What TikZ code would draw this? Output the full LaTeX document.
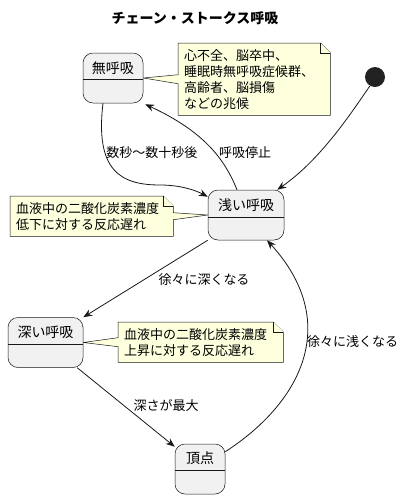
\documentclass[tikz,border=0pt]{standalone}
\usepackage{fontspec}
\setmainfont{Noto Sans CJK JP}
\usetikzlibrary{arrows.meta,backgrounds}
\definecolor{linecol}{HTML}{181818}
\definecolor{statefill}{HTML}{F1F1F1}
\definecolor{notefill}{HTML}{FEFFDD}
\definecolor{dotcol}{HTML}{222222}

\begin{document}
\begin{tikzpicture}[x=1pt, y=-1pt,
  state/.style={draw=linecol, line width=0.5pt, fill=statefill, rounded corners=10pt,
    minimum height=50pt, inner sep=0pt},
  statelbl/.style={font=\fontsize{14}{16}\selectfont, inner sep=0pt},
  divider/.style={draw=linecol, line width=0.5pt},
  lbl/.style={font=\fontsize{13}{16}\selectfont, inner sep=1pt},
  note/.style={font=\fontsize{13}{16}\selectfont, align=left, inner sep=6pt, anchor=north west},
  notebox/.style={draw=linecol, line width=0.5pt, fill=notefill},
  init/.style={circle, fill=dotcol, minimum size=20pt, inner sep=0pt},
  edge/.style={draw=linecol, line width=0.8pt, -{Stealth[length=9pt,width=7pt,inset=3pt]}}]
  \useasboundingbox (0,0) rectangle (404,499);

  % Title
  \node[font=\fontsize{14}{16}\selectfont\bfseries] (title) at (195,18) {チェーン・ストークス呼吸};

  % States
  \node[state, minimum width=60pt] (apnea) at (113,78) {};
  \node[statelbl] (apnea-t) at ([yshift=10pt]apnea.center) {無呼吸};
  \draw[divider] ([yshift=-1pt]apnea.west) -- ([yshift=-1pt]apnea.east);

  \node[state, minimum width=76pt] (shallow) at (246,215) {};
  \node[statelbl] (shallow-t) at ([yshift=10pt]shallow.center) {浅い呼吸};
  \draw[divider] ([yshift=-2pt]shallow.west) -- ([yshift=-2pt]shallow.east);

  \node[state, minimum width=75pt] (deep) at (45.5,342.5) {};
  \node[statelbl] (deep-t) at ([yshift=10pt]deep.center) {深い呼吸};
  \draw[divider] ([yshift=-1.5pt]deep.west) -- ([yshift=-1.5pt]deep.east);

  \node[state, minimum width=50pt] (peak) at (200,469) {};
  \node[statelbl] (peak-t) at ([yshift=11pt]peak.center) {頂点};
  \draw[divider] ([yshift=-1pt]peak.west) -- ([yshift=-1pt]peak.east);

  % Start point
  \node[init] (start) at (375,77) {};

  % Notes
  \node[note, minimum width=152pt, minimum height=72pt, text width=140pt] (note1) at (178,43)
    {心不全、脳卒中、\\睡眠時無呼吸症候群、\\高齢者、脳損傷\\などの兆候};
  \node[note, minimum width=163pt, minimum height=38pt, text width=151pt] (note2) at (10,196)
    {血液中の二酸化炭素濃度\\低下に対する反応遅れ};
  \node[note, minimum width=165pt, minimum height=40pt, text width=153pt] (note3) at (118,322)
    {血液中の二酸化炭素濃度\\上昇に対する反応遅れ};

  \begin{scope}[on background layer]
    \draw[notebox] (note1.north west) -- ([xshift=-10pt]note1.north east)
      -- ([yshift=-10pt]note1.north east) -- (note1.south east) -- (note1.south west)
      -- ([yshift=-4.5pt]note1.west) -- (apnea.east) -- ([yshift=4.5pt]note1.west) -- cycle;
    \draw[notebox] ([xshift=-10pt]note1.north east) -- ([xshift=-10pt,yshift=-10pt]note1.north east)
      -- ([yshift=-10pt]note1.north east);

    \draw[notebox] (note2.north west) -- ([xshift=-10pt]note2.north east)
      -- ([yshift=-10pt]note2.north east) -- ([yshift=3.5pt]note2.east) -- (shallow.west)
      -- ([yshift=-3.5pt]note2.east) -- (note2.south east) -- (note2.south west) -- cycle;
    \draw[notebox] ([xshift=-10pt]note2.north east) -- ([xshift=-10pt,yshift=-10pt]note2.north east)
      -- ([yshift=-10pt]note2.north east);

    \draw[notebox] (note3.north west) -- ([xshift=-10pt]note3.north east)
      -- ([yshift=-10pt]note3.north east) -- (note3.south east) -- (note3.south west)
      -- ([yshift=-4.5pt]note3.west) -- (deep.east) -- ([yshift=4.5pt]note3.west) -- cycle;
    \draw[notebox] ([xshift=-10pt]note3.north east) -- ([xshift=-10pt,yshift=-10pt]note3.north east)
      -- ([yshift=-10pt]note3.north east);
  \end{scope}

  % Transitions
  \draw[edge] ([xshift=-10pt]apnea.south) .. controls (95,170) and (120,185) .. (160,185)
    .. controls (180,185) and (195,190) .. ([yshift=-7pt]shallow.north west);
  \node[lbl] (t-after) at (152,153) {数秒〜数十秒後};

  \draw[edge] ([xshift=-9pt]shallow.north) .. controls (225,160) and (205,132)
    .. ([xshift=2pt,yshift=-1pt]apnea.south east);
  \node[lbl] (t-stop) at (245,153) {呼吸停止};

  \draw[edge] (start.240) .. controls (350,115) and (320,160) .. ([xshift=-7pt]shallow.north east);

  \draw[edge] (shallow.south west) -- (deep.north east);
  \node[lbl] (t-deeper) at (204,280) {徐々に深くなる};

  \draw[edge] ([xshift=-6pt]deep.south east) -- ([yshift=-3pt]peak.north west);
  \node[lbl] (t-max) at (166,406) {深さが最大};

  \draw[edge] ([yshift=-8pt]peak.north east) .. controls (305,400) and (340,320)
    .. ([xshift=21pt]shallow.south);
  \node[lbl, anchor=west] (t-shallower) at (306,342) {徐々に浅くなる};
\end{tikzpicture}
\end{document}
